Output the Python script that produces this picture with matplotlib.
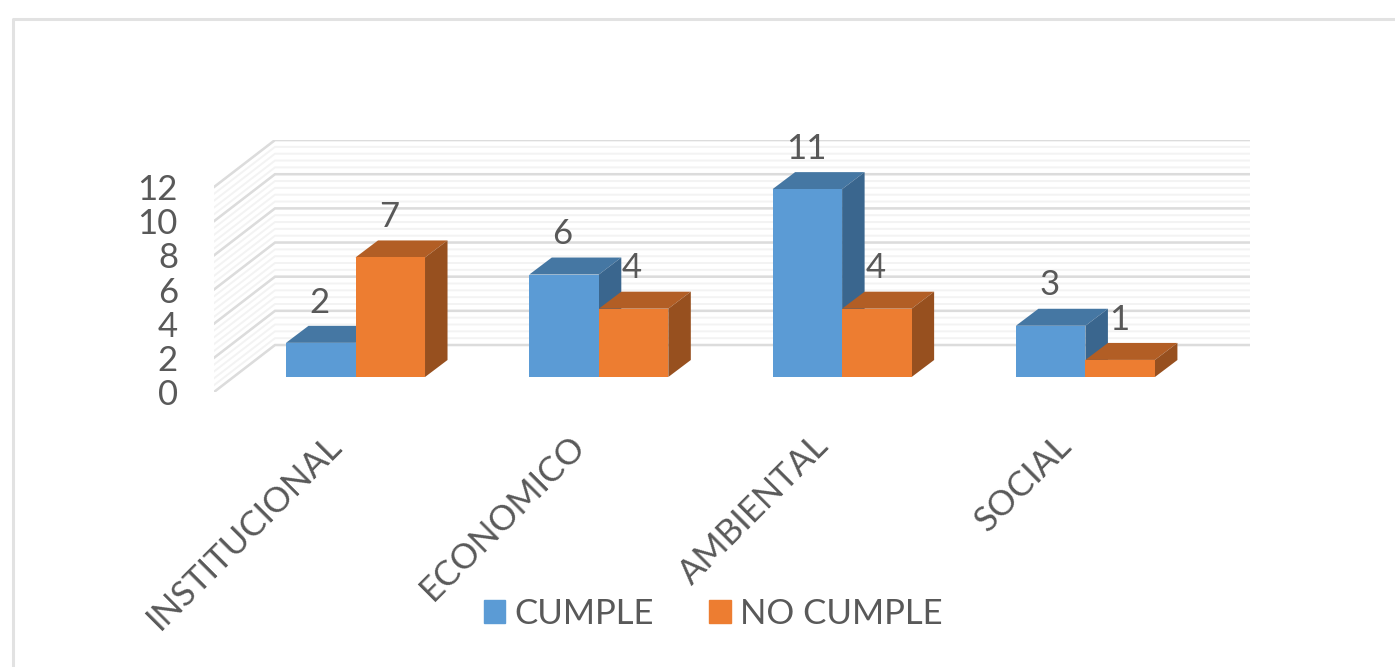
import matplotlib
matplotlib.use('Agg')
import matplotlib.pyplot as plt
from matplotlib.patches import Patch
from matplotlib.lines import Line2D
from matplotlib.transforms import ScaledTranslation
import numpy as np

categories = ['INSTITUCIONAL', 'ECONOMICO', 'AMBIENTAL', 'SOCIAL']
cumple = [2, 6, 11, 3]
no_cumple = [7, 4, 4, 1]
y_labels = ['0', '2', '4', '6', '8', '10', '12']
y_values = [0, 2, 4, 6, 8, 10, 12]

plt.rcParams['font.family'] = ['Lato', 'DejaVu Sans']
TEXT = '#595959'
W, H = 1395, 667

fig = plt.figure(figsize=(W / 100, H / 100), dpi=100)
ax = fig.add_axes([214 / W, 1 - 392 / H, (1250 - 214) / W, (392 - 140) / H])
ax.set_xlim(-0.5816, 3.6765)
ax.set_ylim(-0.878, 13.876)
for s in ax.spines.values():
    s.set_visible(False)
ax.patch.set_visible(False)

# outer chart frame, only top and left show
fig.add_artist(Line2D([12.5 / W, 12.5 / W, 1], [0, 1 - 18.5 / H, 1 - 18.5 / H],
                      color='#E2E2E2', lw=2.2, transform=fig.transFigure))

bar_w = 0.2857
depth_x = 0.0925
depth_y = 0.995
wall_x0 = -0.5816
wall_x1 = -0.5816 + 0.2507
wall_x2 = 3.6765
front_y = -0.878
back_y = 1.873

# walls, minor lines first
for v in np.arange(0, 12.01, 0.4):
    ax.plot([wall_x0, wall_x1, wall_x2], [front_y + v, back_y + v, back_y + v],
            color='#F3F3F3', lw=1.4, zorder=1, solid_joinstyle='miter')
for v in y_values:
    ax.plot([wall_x0, wall_x1, wall_x2], [front_y + v, back_y + v, back_y + v],
            color='#DCDCDC', lw=1.8, zorder=1.5, solid_joinstyle='miter')


def box(x, val, front, top, side, z):
    ax.bar(x, val, bar_w, align='edge', color=front, zorder=z + 0.2, lw=0)
    ax.fill([x, x + bar_w, x + bar_w + depth_x, x + depth_x],
            [val, val, val + depth_y, val + depth_y], color=top, lw=0, zorder=z)
    ax.fill([x + bar_w, x + bar_w + depth_x, x + bar_w + depth_x, x + bar_w],
            [0, depth_y, val + depth_y, val], color=side, lw=0, zorder=z)


for i in range(len(categories)):
    box(i - bar_w, cumple[i], '#5B9BD5', '#4577A3', '#3A668E', 3 + i)
    box(i, no_cumple[i], '#ED7D31', '#B25E25', '#97501F', 3.5 + i)
    ax.annotate(str(cumple[i]), (i - bar_w / 2, cumple[i]), xytext=(-1, 29),
                textcoords='offset points', ha='center', va='center',
                fontsize=25, color=TEXT, zorder=10)
    ax.annotate(str(no_cumple[i]), (i + bar_w / 2, no_cumple[i]), xytext=(-1, 29),
                textcoords='offset points', ha='center', va='center',
                fontsize=25, color=TEXT, zorder=10)

ax.set_yticks([front_y + v for v in y_values], y_labels)
ax.tick_params(axis='y', length=0, pad=26, labelsize=25, labelcolor=TEXT)
ax.set_xticks(range(len(categories)), categories)
ax.tick_params(axis='x', length=0, pad=27, labelsize=25, labelcolor=TEXT)
shift = ScaledTranslation(-30 / 100, 0, fig.dpi_scale_trans)
for lab in ax.get_xticklabels():
    lab.set_rotation(45)
    lab.set_ha('right')
    lab.set_va('top')
    lab.set_rotation_mode('anchor')
    lab.set_transform(lab.get_transform() + shift)

handles = [Patch(color='#5B9BD5', label='CUMPLE'), Patch(color='#ED7D31', label='NO CUMPLE')]
ax.legend(handles=handles, loc='center', bbox_to_anchor=(713 / W, 1 - 614 / H),
          bbox_transform=fig.transFigure, ncol=2, frameon=False, fontsize=25,
          labelcolor=TEXT, handlelength=0.63, handleheight=0.65, handletextpad=0.25,
          columnspacing=1.6)

fig.savefig('out.png', dpi=100)
